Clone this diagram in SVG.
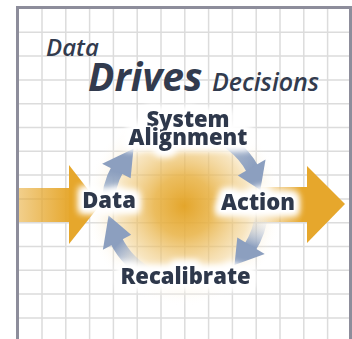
<svg xmlns="http://www.w3.org/2000/svg" width="352" height="339" viewBox="0 0 352 339">
<defs>
<style>
.grid{stroke:#dcdcdc;stroke-width:1.5;fill:none}
.frame{stroke:#8d8d9b;stroke-width:3;fill:none}
.title{font-family:"Open Sans","Noto Sans",sans-serif;font-style:italic;fill:#323b4e}
.node{filter:url(#halo)}
.lbl{font-family:"Open Sans","Noto Sans",sans-serif;font-weight:800;font-size:22px;fill:#2f394b;stroke:#fff;stroke-width:3;paint-order:stroke;stroke-linejoin:round;text-anchor:middle}
.shaft{fill:none;stroke-width:13}
.head{fill:#8c9fbf}
</style>
<filter id="halo" x="-30%" y="-60%" width="160%" height="220%">
<feMorphology in="SourceAlpha" operator="dilate" radius="3" result="d"/>
<feGaussianBlur in="d" stdDeviation="3.5" result="b"/>
<feFlood flood-color="#ffffff"/>
<feComposite in2="b" operator="in" result="w"/>
<feMerge><feMergeNode in="w"/><feMergeNode in="w"/><feMergeNode in="SourceGraphic"/></feMerge>
</filter>
<radialGradient id="glow" cx="184" cy="206" r="100" gradientUnits="userSpaceOnUse">
<stop offset="0" stop-color="#e3a325" stop-opacity="0.97"/>
<stop offset="0.3" stop-color="#e8b142" stop-opacity="0.85"/>
<stop offset="0.65" stop-color="#f1cf8a" stop-opacity="0.55"/>
<stop offset="1" stop-color="#ffffff" stop-opacity="0"/>
</radialGradient>
<linearGradient id="oL" x1="19" y1="0" x2="72" y2="0" gradientUnits="userSpaceOnUse">
<stop offset="0" stop-color="#e6a72c" stop-opacity="0.55"/>
<stop offset="1" stop-color="#e6a72c" stop-opacity="1"/>
</linearGradient>
<linearGradient id="oR" x1="252" y1="0" x2="302" y2="0" gradientUnits="userSpaceOnUse">
<stop offset="0" stop-color="#e6a72c" stop-opacity="0"/>
<stop offset="1" stop-color="#e6a72c" stop-opacity="1"/>
</linearGradient>
<linearGradient id="b1" x1="108" y1="210" x2="116" y2="172" gradientUnits="userSpaceOnUse">
<stop offset="0" stop-color="#dfe5ee" stop-opacity="0"/>
<stop offset="0.6" stop-color="#9aadc9" stop-opacity="0.85"/>
<stop offset="1" stop-color="#8c9fbf" stop-opacity="1"/>
</linearGradient>
<linearGradient id="b2" x1="202" y1="131" x2="252" y2="168" gradientUnits="userSpaceOnUse">
<stop offset="0" stop-color="#c9d3e3" stop-opacity="0.4"/>
<stop offset="0.4" stop-color="#a4b5ce" stop-opacity="0.85"/>
<stop offset="1" stop-color="#8c9fbf" stop-opacity="1"/>
</linearGradient>
<linearGradient id="b3" x1="261" y1="216" x2="251" y2="246" gradientUnits="userSpaceOnUse">
<stop offset="0" stop-color="#dfe5ee" stop-opacity="0"/>
<stop offset="1" stop-color="#8c9fbf" stop-opacity="1"/>
</linearGradient>
<linearGradient id="b4" x1="149" y1="274" x2="118" y2="244" gradientUnits="userSpaceOnUse">
<stop offset="0" stop-color="#dfe5ee" stop-opacity="0"/>
<stop offset="1" stop-color="#8c9fbf" stop-opacity="1"/>
</linearGradient>
</defs>
<rect width="352" height="339" fill="#fff"/>
<path class="grid" d="M42,9V339M65.8,9V339M89.6,9V339M113.4,9V339M137.2,9V339M161,9V339M184.8,9V339M208.6,9V339M232.4,9V339M256.2,9V339M280,9V339M303.8,9V339M327.6,9V339M19,32.3H350M19,56.1H350M19,79.9H350M19,103.7H350M19,127.5H350M19,151.3H350M19,175.1H350M19,198.9H350M19,222.7H350M19,246.5H350M19,270.3H350M19,294.1H350M19,317.9H350"/>
<circle cx="184" cy="206" r="100" fill="url(#glow)"/>
<g id="connectors">
<g id="input-arrow">
<rect x="19" y="188" width="51" height="34" fill="url(#oL)"/>
<polygon points="69,165 100,205 69,244" fill="#e6a72c"/>
</g>
<g id="output-arrow">
<rect x="252" y="187" width="56" height="35" fill="url(#oR)"/>
<polygon points="307,166 345,204 307,243" fill="#e6a72c"/>
</g>
<g id="arrow-data-system">
<path class="shaft" stroke="url(#b1)" d="M108.05,208.69 A77,77 0 0 1 118.32,167.5"/>
<polygon class="head" points="102.14,163.78 133.48,148.78 130.65,178.31"/>
</g>
<g id="arrow-system-action">
<path class="shaft" stroke="url(#b2)" d="M202.32,130.97 A77,77 0 0 1 252.99,169.85"/>
<polygon class="head" points="265.54,159.5 260.32,189.99 237.83,175.5"/>
</g>
<g id="arrow-action-recalibrate">
<path class="shaft" stroke="url(#b3)" d="M261.71,212.71 A77,77 0 0 1 249.58,247.94"/>
<polygon class="head" points="264.72,253.9 234.49,264.99 237.29,237.42"/>
</g>
<g id="arrow-recalibrate-data">
<path class="shaft" stroke="url(#b4)" d="M152.46,275.79 A77,77 0 0 1 115.79,239.75"/>
<polygon class="head" points="102.89,249.66 108.57,215.38 131.14,234.64"/>
</g>
</g>
<g id="node-system" class="node">
<text class="lbl" x="188" y="127">System</text>
<text class="lbl" x="188" y="145">Alignment</text>
</g>
<g id="node-data" class="node">
<text class="lbl" x="109" y="208">Data</text>
</g>
<g id="node-action" class="node">
<text class="lbl" x="258" y="210">Action</text>
</g>
<g id="node-recalibrate" class="node">
<text class="lbl" x="185.5" y="284">Recalibrate</text>
</g>
<g id="title">
<text class="title" x="46" y="56" font-size="24" font-weight="600">Data</text>
<text class="title" x="88" y="91" font-size="39" font-weight="700">Drives</text>
<text class="title" x="212" y="91" font-size="25" font-weight="600">Decisions</text>
</g>
<path class="frame" d="M17.5,339V7.5H350.5V339"/>
</svg>
